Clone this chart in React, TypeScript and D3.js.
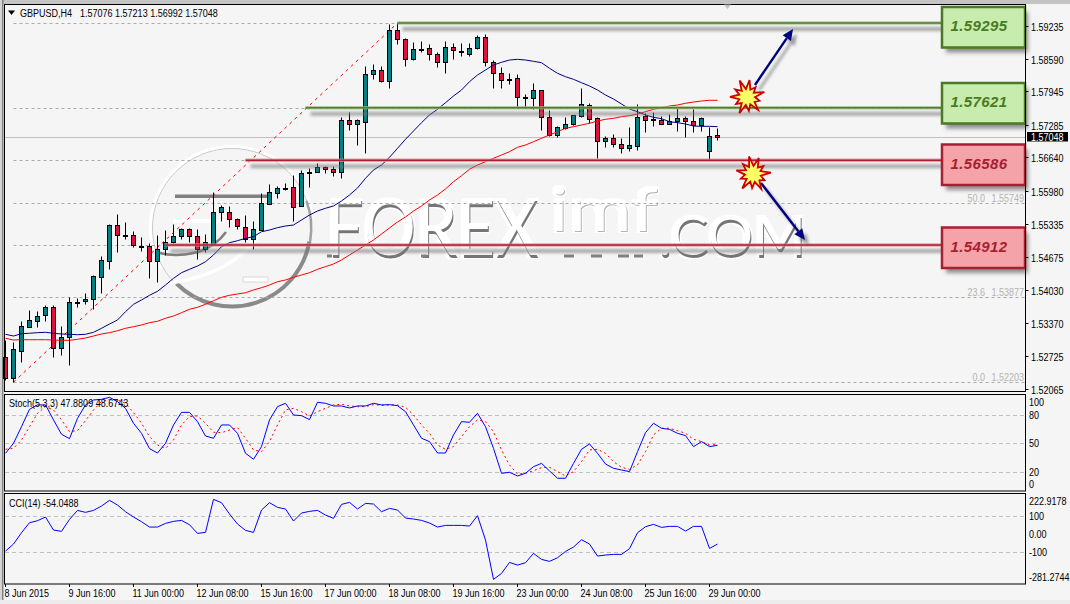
import React from "react";
import * as d3 from "d3";

const WIDTH = 1070;
const HEIGHT = 604;

const opens = [1.52707,1.52280,1.52825,1.53299,1.53417,1.53524,1.53682,1.52872,1.53090,1.53787,1.53800,1.53852,1.54286,1.54602,1.55307,1.55115,1.55104,1.54892,1.54892,1.54602,1.54827,1.54977,1.55090,1.55222,1.55090,1.54839,1.54926,1.55569,1.55569,1.55419,1.55273,1.55036,1.55208,1.55721,1.55945,1.56037,1.56051,1.55682,1.56347,1.56347,1.56446,1.56407,1.56347,1.57374,1.57307,1.57334,1.58294,1.58361,1.58156,1.59157,1.58973,1.58590,1.58788,1.58795,1.58677,1.58519,1.58815,1.58748,1.58677,1.58795,1.59013,1.58531,1.58302,1.58189,1.58203,1.57840,1.57820,1.57966,1.57445,1.57084,1.57228,1.57295,1.57465,1.57682,1.57413,1.56971,1.57019,1.56900,1.56833,1.56872,1.57459,1.57394,1.57380,1.57307,1.57366,1.57419,1.57366,1.57287,1.56774,1.57076];
const highs = [1.53036,1.53003,1.53412,1.53629,1.53615,1.53727,1.53727,1.53313,1.53879,1.53860,1.53958,1.54320,1.54695,1.55327,1.55524,1.55360,1.55182,1.55064,1.54957,1.55109,1.55208,1.55327,1.55248,1.55248,1.55222,1.55129,1.55958,1.55708,1.55682,1.55445,1.55504,1.55380,1.55933,1.56116,1.56077,1.56130,1.56294,1.56393,1.56438,1.56525,1.56478,1.56478,1.57445,1.57532,1.57394,1.58446,1.58485,1.58446,1.59275,1.59295,1.58999,1.58926,1.58940,1.58880,1.58722,1.58940,1.58894,1.58894,1.58894,1.59058,1.59078,1.58564,1.58432,1.58302,1.58282,1.57893,1.58104,1.57966,1.57577,1.57261,1.57433,1.57473,1.58006,1.57721,1.57433,1.57064,1.57103,1.57019,1.57236,1.57696,1.57512,1.57544,1.57459,1.57498,1.57611,1.57459,1.57597,1.57445,1.57248,1.57213];
const lows = [1.52247,1.52213,1.52608,1.53293,1.53299,1.53417,1.52707,1.52740,1.52543,1.53694,1.53747,1.53654,1.53958,1.54444,1.54774,1.55036,1.54867,1.54799,1.54260,1.54181,1.54715,1.54957,1.55036,1.54971,1.54642,1.54774,1.54926,1.55392,1.55261,1.55234,1.54971,1.54827,1.55208,1.55721,1.55834,1.55998,1.55392,1.55682,1.56063,1.56347,1.56328,1.56274,1.56229,1.57182,1.56886,1.56734,1.58189,1.58136,1.58012,1.58880,1.58446,1.58564,1.58728,1.58564,1.58432,1.58314,1.58590,1.58649,1.58649,1.58776,1.58446,1.58018,1.58018,1.58091,1.57631,1.57631,1.57603,1.57182,1.57064,1.57038,1.57208,1.57281,1.57433,1.57315,1.56624,1.56853,1.56841,1.56734,1.56774,1.56788,1.57143,1.57261,1.57301,1.57301,1.57169,1.57038,1.57149,1.57169,1.56590,1.56992];
const closes = [1.52286,1.52853,1.53313,1.53431,1.53510,1.53682,1.52878,1.53090,1.53781,1.53787,1.53852,1.54300,1.54616,1.55307,1.55115,1.55115,1.54906,1.54892,1.54602,1.54827,1.54977,1.55090,1.55222,1.55090,1.54839,1.54977,1.55569,1.55656,1.55419,1.55287,1.55036,1.55222,1.55735,1.55958,1.56031,1.56037,1.55668,1.56328,1.56347,1.56446,1.56407,1.56347,1.57380,1.57301,1.57374,1.58282,1.58361,1.58156,1.59157,1.58985,1.58578,1.58776,1.58788,1.58677,1.58519,1.58815,1.58756,1.58748,1.58795,1.59013,1.58531,1.58302,1.58164,1.58189,1.57840,1.57840,1.57966,1.57445,1.57084,1.57236,1.57295,1.57473,1.57690,1.57406,1.56971,1.57019,1.56900,1.56833,1.56880,1.57445,1.57386,1.57394,1.57307,1.57366,1.57419,1.57366,1.57281,1.57419,1.57058,1.57048];

const maBlue = [1.53149,1.53115,1.53161,1.53169,1.53181,1.53188,1.53169,1.53155,1.53149,1.53141,1.53149,1.53188,1.53267,1.53352,1.53431,1.53595,1.53741,1.53826,1.53919,1.53998,1.54122,1.54254,1.54365,1.54432,1.54497,1.54582,1.54715,1.54878,1.54957,1.54997,1.55044,1.55076,1.55174,1.55208,1.55254,1.55287,1.55307,1.55406,1.55504,1.55583,1.55637,1.55682,1.55781,1.55899,1.56037,1.56229,1.56393,1.56491,1.56643,1.56821,1.56999,1.57163,1.57327,1.57479,1.57591,1.57721,1.57854,1.57972,1.58136,1.58268,1.58367,1.58466,1.58519,1.58564,1.58578,1.58564,1.58539,1.58511,1.58401,1.58302,1.58235,1.58183,1.58116,1.58051,1.57972,1.57873,1.57794,1.57696,1.57597,1.57544,1.57479,1.57433,1.57406,1.57346,1.57327,1.57301,1.57261,1.57255,1.57255,1.57248];
const maRed = [1.53070,1.53036,1.53042,1.53042,1.53042,1.53042,1.53036,1.53030,1.53030,1.53050,1.53076,1.53115,1.53155,1.53181,1.53220,1.53267,1.53299,1.53333,1.53378,1.53406,1.53465,1.53510,1.53575,1.53643,1.53682,1.53741,1.53812,1.53879,1.53919,1.53945,1.53970,1.54024,1.54069,1.54122,1.54187,1.54221,1.54274,1.54320,1.54365,1.54432,1.54484,1.54537,1.54616,1.54715,1.54813,1.54912,1.55011,1.55129,1.55248,1.55366,1.55465,1.55583,1.55682,1.55800,1.55899,1.56018,1.56162,1.56280,1.56407,1.56491,1.56557,1.56624,1.56689,1.56754,1.56841,1.56886,1.56951,1.57019,1.57084,1.57149,1.57216,1.57248,1.57281,1.57315,1.57360,1.57394,1.57413,1.57445,1.57465,1.57498,1.57544,1.57591,1.57623,1.57656,1.57676,1.57710,1.57735,1.57755,1.57769,1.57769];

const stochMain = [39.5,50,67.5,85.8,90.4,90.4,74.6,59.5,54.9,76.3,90.4,95.6,96.3,98.4,93.9,86.8,71.1,60.5,44.4,39.8,50,69.3,82.6,82.6,72.8,57.7,55.3,69.3,69.3,60.5,39.5,33.2,46.5,74.6,88.6,92.1,79.8,79.1,74.9,93.2,92.1,89.3,89.3,87.2,89.3,89.3,92.1,90.4,90.7,89.6,83.3,69.3,55.3,51.8,39.8,39.8,58.8,72.8,72.1,81.6,67.5,44.7,18.4,19.5,15.6,18.4,25.4,28.9,20.9,13.2,13.2,28.9,43.7,49.3,39.5,28.2,23.7,21.9,20.2,41.2,61.2,71.1,65.8,64.7,60.5,58.1,46.5,51.8,46.5,47.88];
const stochSignal = [43.7,44.7,53.5,67.5,81.6,88.6,85.1,74.6,62.3,63.3,73.9,85.1,93.9,96.3,95.6,92.1,82.3,71.1,57,48.2,44.7,53.5,69.3,78.1,78.8,71.1,61.6,61.2,64,66.5,55.3,43,41.2,51.8,69.3,85.1,86.8,83.3,78.8,83.3,86.8,90.4,91.1,89.3,88.6,88.6,90.7,90,90.4,90.4,87.9,79.8,69.3,60.5,48.2,43.7,46.5,57,67.5,74.6,72.8,62.3,43,27.2,17.7,18.4,21.2,24.4,24.7,20.2,15.6,20.2,30.7,43,43.7,39.5,30.7,24.7,22.6,27.2,41.2,58.8,65.8,65.8,63.3,60.5,54.2,51.8,48.2,48.67];
const cci = [-92.8,-53.9,9,64.6,75.7,96.1,23.9,16.5,83.1,133.1,122,133.1,157.2,188.7,162.8,125.7,96.1,70.2,40.5,40.5,60.9,72,77.6,53.5,5.3,10.9,194.2,175.7,112.8,57.2,22,10.9,135,175.7,149.8,140.5,73.9,118.3,127.6,133.1,107.2,88.7,166.5,177.6,140.5,172,168.3,125.7,144.2,135,90.5,85,77.6,62.8,40.5,49.8,49.8,49.8,46.1,103.5,-31.7,-250.2,-216.9,-155.8,-170.6,-157.6,-105.8,-139,-150.2,-129.9,-94.7,-70.6,-29.8,-53.9,-120.6,-115,-111.3,-111.3,-79.9,9,42.4,55.3,38.7,44.2,44.2,18.3,44.2,44.2,-78,-54.05];

const priceTicks = ["1.59235","1.58590","1.57945","1.57285","1.56640","1.55980","1.55335","1.54675","1.54030","1.53370","1.52725","1.52065"];
const timeTicks = ["8 Jun 2015","9 Jun 16:00","11 Jun 00:00","12 Jun 08:00","15 Jun 16:00","17 Jun 00:00","18 Jun 08:00","19 Jun 16:00","23 Jun 00:00","24 Jun 08:00","25 Jun 16:00","29 Jun 00:00"];
const stochTicks = ["100","80","50","20","0"];
const cciTicks = ["222.9178","100","0.00","-100","-281.2744"];
const stochLevels = [80, 50, 20];
const cciLevels = [100, -100];
const symbolLabel = "GBPUSD,H4";
const stochLabel = "Stoch(5,3,3) 47.8809 48.6743";
const cciLabel = "CCI(14) -54.0488";

const fibLevels = [
  { level: "100.0", price: 1.59295 },
  { level: "76.4", price: 1.57621 },
  { level: "61.8", price: 1.56586 },
  { level: "50.0", price: 1.55749 },
  { level: "38.2", price: 1.54912 },
  { level: "23.6", price: 1.53877 },
  { level: "0.0", price: 1.52203 },
];
const visibleFibLabels = ["50.0", "23.6", "0.0"];
const zones = [
  { label: "1.59295", price: 1.59295, startBar: 49, kind: "green", boxTop: 7 },
  { label: "1.57621", price: 1.57621, startBar: 37.5, kind: "green", boxTop: 83 },
  { label: "1.56586", price: 1.56586, startBar: 30, kind: "red", boxTop: 144.5 },
  { label: "1.54912", price: 1.54912, startBar: 20, kind: "red", boxTop: 227.5 },
];
const zoneStyle: Record<string, { line: string; halo: string; fill: string; stroke: string; text: string }> = {
  green: { line: "#4f7f27", halo: "#9dbb85", fill: "#c8ecae", stroke: "#4a7a22", text: "#4a7a22" },
  red: { line: "#ad1f30", halo: "#d98a93", fill: "#f4a3a9", stroke: "#a81f30", text: "#a81f30" },
};
const starRadii = [17, 8, 13, 8, 18, 8, 13, 9, 17, 8, 14, 8, 18, 8, 13, 8, 17, 8, 14, 8, 18, 8];
const watermarkDashes = [[327, 5], [421, 6], [564, 10], [591, 11], [618, 11], [634, 9]];

const FONT = "'Liberation Sans', sans-serif";
const BG = "#f5f5f5";
const FRAME_RIGHT = 1025.5;
const SQUEEZE = 0.82;

const T = ({ x, y, children, fill = "#000", anchor = "start" }: any) => (
  <text
    transform={`translate(${x},${y}) scale(${SQUEEZE},1)`}
    fontFamily={FONT}
    fontSize={11}
    fill={fill}
    textAnchor={anchor}
  >
    {children}
  </text>
);

const App = () => {
  const n = closes.length;
  const bars = d3.range(n);
  const x = d3.scaleLinear().domain([0, n - 1]).range([5.5, 717.5]);
  const y = d3.scaleLinear().domain([1.59295, 1.52203]).range([23, 382.2]);
  const py = (v: number) => Math.round(y(v)) + 0.5;
  const yStoch = d3.scaleLinear().domain([100, 0]).range([395.8, 490.8]);
  const yCci = d3.scaleLinear().domain([222.9178, -281.2744]).range([494.2, 585]);

  const lineOf = (scale: (v: number) => number) =>
    d3.line<number>().x((_, i) => x(i)).y((v) => scale(v));

  const clamp = (v: number, top: number, bottom: number) => Math.max(top + 7.5, Math.min(bottom - 7, v));

  const ring = d3.arc();
  const arcPath = (inner: number, outer: number, a0: number, a1: number) =>
    ring({ innerRadius: inner, outerRadius: outer, startAngle: (a0 * Math.PI) / 180, endAngle: (a1 * Math.PI) / 180 }) as string;

  const star = (cx: number, cy: number, rot: number) => {
    const path = d3
      .lineRadial<number>()
      .angle((_, i) => rot + (i * 2 * Math.PI) / starRadii.length)
      .radius((r) => r)
      .curve(d3.curveLinearClosed)(starRadii) as string;
    return (
      <g transform={`translate(${cx},${cy})`}>
        <path d={path} fill="#ffff66" stroke="#cc0000" strokeWidth={1.8} strokeLinejoin="miter" />
      </g>
    );
  };

  const arrow = (x1: number, y1: number, x2: number, y2: number) => {
    const a = Math.atan2(y2 - y1, x2 - x1);
    const L = 11;
    const W = 5;
    const bx = x2 - L * Math.cos(a);
    const by = y2 - L * Math.sin(a);
    const head = `M${x2},${y2}L${bx - W * Math.sin(a)},${by + W * Math.cos(a)}L${bx + W * Math.sin(a)},${by - W * Math.cos(a)}Z`;
    return (
      <g>
        <g transform="translate(4,5)" filter="url(#soft)" opacity={0.55}>
          <line x1={x1} y1={y1} x2={bx} y2={by} stroke="#555" strokeWidth={2.5} />
          <path d={head} fill="#555" />
        </g>
        <line x1={x1} y1={y1} x2={bx} y2={by} stroke="#000080" strokeWidth={2.4} />
        <path d={head} fill="#000080" />
      </g>
    );
  };

  const region = { filterUnits: "userSpaceOnUse", x: 0, y: 0, width: WIDTH, height: HEIGHT } as any;

  const emboss = (id: string, edge: string, dy: number, halo: number) => (
    <filter id={id} {...region} colorInterpolationFilters="sRGB">
      <feMorphology in="SourceAlpha" operator="dilate" radius={halo} result="dil" />
      <feOffset in="dil" dx={-1} dy={-1} result="dilOff" />
      <feFlood floodColor="#ffffff" result="white" />
      <feComposite in="white" in2="dilOff" operator="in" result="haloLayer" />
      <feOffset in="SourceAlpha" dx={-1} dy={-dy} result="shift" />
      <feComposite in="SourceAlpha" in2="shift" operator="out" result="edgeMask" />
      <feFlood floodColor={edge} result="grey" />
      <feComposite in="grey" in2="edgeMask" operator="in" result="edgeLayer" />
      <feMerge>
        <feMergeNode in="haloLayer" />
        <feMergeNode in="edgeLayer" />
      </feMerge>
    </filter>
  );

  return (
    <svg
      width={WIDTH}
      height={HEIGHT}
      viewBox={`0 0 ${WIDTH} ${HEIGHT}`}
      style={{ position: "absolute", left: 0, top: 0, display: "block" }}
    >
      <defs>
        <filter id="soft" {...region}>
          <feGaussianBlur stdDeviation="1.8" />
        </filter>
        <filter id="softBox" {...region}>
          <feGaussianBlur stdDeviation="2" />
        </filter>
        {emboss("embossBig", "#757575", 3, 2)}
        {emboss("embossPale", "#b4b4b4", 1.5, 2)}
      </defs>

      <rect width={WIDTH} height={HEIGHT} fill={BG} />
      <rect x={0} y={0} width={WIDTH} height={4} fill="#c4c4c4" />
      <rect x={0} y={0} width={3} height={HEIGHT} fill="#d4d4d4" />
      <rect x={2} y={0} width={1.5} height={HEIGHT} fill="#808080" />
      <rect x={0} y={600} width={WIDTH} height={4} fill="#ececec" />

      {/* watermark */}
      <g>
        <path transform="translate(232,228)" d={arcPath(79, 83, -100, 80)} fill="#ffffff" />
        <path transform="translate(232,228)" d={arcPath(79, 83, 240, 350)} fill="#ffffff" />
        <circle cx={232} cy={228} r={79.5} fill="none" stroke="#c8c8c8" strokeWidth={1} />
        <path transform="translate(232,228)" d={arcPath(76.5, 80.5, 100, 225)} fill="#8a8a8a" />
        <path transform="translate(232,228)" d={arcPath(78, 80.5, 70, 100)} fill="#a0a0a0" />
        <rect x={175} y={194.5} width={93} height={3.5} fill="#808080" />
        <rect x={173} y={219} width={52} height={4} fill="#ffffff" />
        <path d="M156,252 Q175,258 198,252 Q216,246 226,232" fill="none" stroke="#808080" strokeWidth={2.5} />
        <path d="M170,283 Q218,276 244,252 Q258,240 266,224" fill="none" stroke="#ffffff" strokeWidth={3.5} />
        <rect x={243} y={277} width={25} height={5} fill="#ffffff" stroke="#cfcfcf" strokeWidth={0.8} />
        <text x={327} y={258} fontFamily="Lato" fontWeight={400} fontSize={79} textLength={212} lengthAdjust="spacingAndGlyphs" filter="url(#embossBig)">FOREX</text>
        <text x={551} y={232} fontFamily="Lato" fontWeight={400} fontSize={60} textLength={108} lengthAdjust="spacingAndGlyphs" filter="url(#embossPale)">imf</text>
        <text x={659} y={258} fontFamily="Lato" fontWeight={400} fontSize={56} textLength={148} lengthAdjust="spacingAndGlyphs" filter="url(#embossBig)">.COM</text>
        {watermarkDashes.map(([dx, w]) => (
          <rect key={dx} x={dx} y={254.5} width={w} height={3} fill="#808080" />
        ))}
      </g>

      {/* fib grid */}
      {fibLevels.map((f) => (
        <line key={f.level} x1={x(1)} x2={FRAME_RIGHT} y1={py(f.price)} y2={py(f.price)} stroke="#aaaaaa" strokeWidth={1} strokeDasharray="3 3" />
      ))}
      {fibLevels.filter((f) => visibleFibLabels.includes(f.level)).map((f) => (
        <g key={f.level}>
          <T x={985} y={py(f.price) - 1.5} fill="#b4b4b4" anchor="end">{f.level}</T>
          <T x={1024} y={py(f.price) - 1.5} fill="#b4b4b4" anchor="end">{f.price.toFixed(5)}</T>
        </g>
      ))}

      {/* current price */}
      <line x1={5} x2={FRAME_RIGHT} y1={py(closes[n - 1])} y2={py(closes[n - 1])} stroke="#c0c0c0" strokeWidth={1} />

      {/* trend line */}
      <line x1={x(1)} y1={y(1.52203)} x2={x(49)} y2={y(1.59295)} stroke="#ff0000" strokeWidth={1} strokeDasharray="3 4" />

      {/* candles */}
      {bars.map((i) => {
        const o = opens[i];
        const c = closes[i];
        const top = py(Math.max(o, c));
        const bot = py(Math.min(o, c));
        const doji = Math.abs(o - c) < 0.00012;
        return (
          <g key={i}>
            <line x1={x(i)} x2={x(i)} y1={py(highs[i])} y2={py(lows[i])} stroke="#000" strokeWidth={1} />
            <rect
              x={x(i) - 2}
              y={top}
              width={4}
              height={Math.max(bot - top, 1)}
              fill={doji ? "#000" : c >= o ? "#008080" : "#dc143c"}
              stroke="#000"
              strokeWidth={1}
            />
          </g>
        );
      })}

      {/* moving averages */}
      <path d={lineOf(y)(maRed) as string} fill="none" stroke="#ff0000" strokeWidth={1} />
      <path d={lineOf(y)(maBlue) as string} fill="none" stroke="#000080" strokeWidth={1} />

      {/* zones */}
      {zones.map((z) => {
        const s = zoneStyle[z.kind];
        const ly = y(z.price);
        const boxH = 40.5;
        return (
          <g key={z.label}>
            <line x1={x(z.startBar) + 5} x2={945} y1={ly + 6} y2={ly + 6} stroke="#777" strokeWidth={4} opacity={0.6} filter="url(#soft)" />
            <line x1={x(z.startBar)} x2={942} y1={ly} y2={ly} stroke={s.halo} strokeWidth={3.5} opacity={0.75} />
            <line x1={x(z.startBar)} x2={942} y1={ly} y2={ly} stroke={s.line} strokeWidth={1.6} />
            <rect x={946} y={z.boxTop + 5} width={82} height={boxH} fill="#555" opacity={0.65} filter="url(#softBox)" />
            <rect x={942} y={z.boxTop} width={83} height={boxH} fill={s.fill} stroke={s.stroke} strokeWidth={2.5} />
            <text x={979} y={z.boxTop + boxH / 2 + 4} textAnchor="middle" fontFamily="'Liberation Sans', sans-serif" fontStyle="italic" fontWeight={700} fontSize={15} letterSpacing={0.4} fill={s.text}>
              {z.label}
            </text>
          </g>
        );
      })}

      {arrow(755, 85, 793, 29)}
      {arrow(761, 183, 805, 240)}
      {star(747, 97, 0.15)}
      {star(753, 174, 0.35)}

      {/* stochastic */}
      {stochLevels.map((v) => (
        <line key={v} x1={5} x2={FRAME_RIGHT} y1={Math.round(yStoch(v)) + 0.5} y2={Math.round(yStoch(v)) + 0.5} stroke="#c0c0c0" strokeDasharray="4 3" />
      ))}
      <path d={lineOf(yStoch)(stochSignal) as string} fill="none" stroke="#ff0000" strokeWidth={1} strokeDasharray="2 3" />
      <path d={lineOf(yStoch)(stochMain) as string} fill="none" stroke="#0000ff" strokeWidth={1} />

      {/* cci */}
      {cciLevels.map((v) => (
        <line key={v} x1={5} x2={FRAME_RIGHT} y1={Math.round(yCci(v)) + 0.5} y2={Math.round(yCci(v)) + 0.5} stroke="#c0c0c0" strokeDasharray="4 3" />
      ))}
      <path d={lineOf(yCci)(cci) as string} fill="none" stroke="#0000ff" strokeWidth={1} />

      {/* frames */}
      <rect x={4.5} y={4.5} width={FRAME_RIGHT - 4.5} height={387} fill="none" stroke="#000" />
      <rect x={4.5} y={394.5} width={FRAME_RIGHT - 4.5} height={96.5} fill="none" stroke="#000" />
      <rect x={4.5} y={493.5} width={FRAME_RIGHT - 4.5} height={90.5} fill="none" stroke="#000" />

      {/* price axis */}
      {priceTicks.map((t) => {
        const yy = py(+t);
        return (
          <g key={t}>
            <line x1={FRAME_RIGHT} x2={FRAME_RIGHT + 3} y1={yy} y2={yy} stroke="#000" />
            <T x={1031} y={yy + 4}>{t}</T>
          </g>
        );
      })}
      <rect x={1027} y={132} width={41} height={9.5} fill="#000" />
      <T x={1031} y={141} fill="#fff">{closes[n - 1].toFixed(5)}</T>

      {/* indicator axes */}
      {stochTicks.map((t) => (
        <T key={t} x={1029} y={clamp(yStoch(+t), 394, 491) + 4}>{t}</T>
      ))}
      {cciTicks.map((t) => (
        <T key={t} x={1029} y={clamp(yCci(+t), 493, 584) + 4}>{t}</T>
      ))}

      {/* time axis */}
      {timeTicks.map((t, k) => {
        const xx = x(k * 8);
        return (
          <g key={t}>
            <line x1={xx} x2={xx} y1={584} y2={587} stroke="#000" />
            <T x={xx - 1} y={597}>{t}</T>
          </g>
        );
      })}

      {/* headers */}
      <path d="M8,10.5 L15,10.5 L11.5,15 Z" fill="#000" />
      <T x={20} y={16.5}>{symbolLabel}</T>
      <T x={80} y={16.5}>{`${opens[n - 1].toFixed(5)} ${highs[n - 1].toFixed(5)} ${lows[n - 1].toFixed(5)} ${closes[n - 1].toFixed(5)}`}</T>
      <path d="M724,4.5 L731,4.5 L727.5,9 Z" fill="#c0c0c0" />
      <T x={9} y={407}>{stochLabel}</T>
      <T x={9} y={507}>{cciLabel}</T>
    </svg>
  );
};

export default App;
